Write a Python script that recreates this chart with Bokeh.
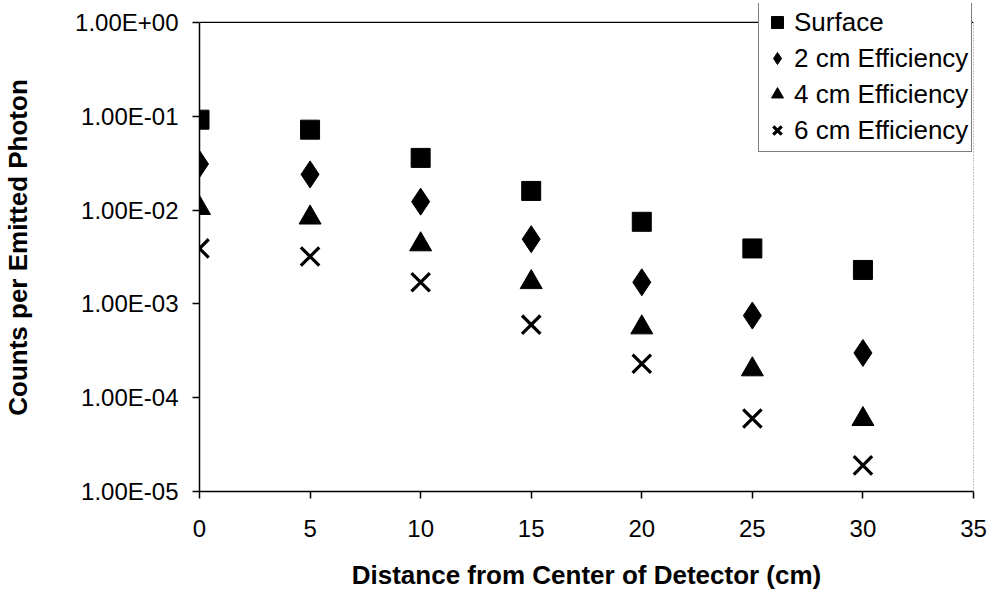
from bokeh.plotting import figure
from bokeh.embed import file_html
from bokeh.resources import INLINE
from bokeh.models import (FixedTicker, CustomJSTickFormatter, LinearAxis, Legend, LegendItem, Range1d, Span)

distance = [0, 5, 10, 15, 20, 25, 30]
surface = [0.092, 0.072, 0.036, 0.016, 0.0075, 0.0039, 0.0023]
eff_2cm = [0.031, 0.024, 0.0123, 0.0049, 0.0017, 0.00075, 0.0003]
eff_4cm = [0.0105, 0.0083, 0.0043, 0.0017, 0.00056, 0.0002, 0.000059]
eff_6cm = [0.0039, 0.0032, 0.0017, 0.0006, 0.00023, 0.00006, 0.000019]

x_ticks = [0, 5, 10, 15, 20, 25, 30, 35]
y_ticks = [1e-5, 1e-4, 1e-3, 1e-2, 1e-1, 1e0]
y_tick_labels = ["1.00E-05", "1.00E-04", "1.00E-03", "1.00E-02", "1.00E-01", "1.00E+00"]
series_names = ["Surface", "2 cm Efficiency", "4 cm Efficiency", "6 cm Efficiency"]

FONT = "Liberation Sans"
Y_MIN, Y_MAX = y_ticks[0], y_ticks[-1]

p = figure(width=992, height=592, output_backend="svg", toolbar_location=None,
           y_axis_type="log", x_range=Range1d(0, 35), y_range=Range1d(Y_MIN, 1.593),
           min_border_left=198, min_border_right=19, min_border_top=3, min_border_bottom=100)
p.outline_line_color = None
p.xgrid.grid_line_color = None
p.ygrid.grid_line_color = None
p.background_fill_color = "white"
p.border_fill_color = "white"

r1 = p.scatter(distance, surface, marker="square", size=19, color="black")
r2 = p.scatter(distance, eff_2cm, marker="diamond", size=27, color="black")
r3 = p.scatter(distance, eff_4cm, marker="triangle", size=22, color="black")
r4 = p.scatter(distance, eff_6cm, marker="x", size=26, line_color="black", line_width=3.2)

xa = p.xaxis[0]
xa.ticker = FixedTicker(ticks=x_ticks)
xa.axis_label = "Distance from Center of Detector (cm)"
ya = p.yaxis[0]
ya.ticker = FixedTicker(ticks=y_ticks)
ya.bounds = (Y_MIN, Y_MAX)
ya.formatter = CustomJSTickFormatter(args=dict(vals=y_ticks, labs=y_tick_labels), code="""
    let best = 0, bd = 1e9;
    for (let i = 0; i < vals.length; i++) {
        const d = Math.abs(Math.log10(vals[i]) - Math.log10(tick));
        if (d < bd) { bd = d; best = i; }
    }
    return labs[best];
""")
ya.axis_label = "Counts per Emitted Photon"

for ax in (xa, ya):
    ax.axis_line_color = "black"
    ax.axis_line_width = 1.5
    ax.major_tick_line_color = "black"
    ax.major_tick_line_width = 1.5
    ax.major_tick_out = 7
    ax.major_tick_in = 0
    ax.minor_tick_line_color = None
    ax.major_label_text_font = FONT
    ax.major_label_text_font_size = "24px"
    ax.major_label_text_color = "black"
    ax.axis_label_text_font = FONT
    ax.axis_label_text_font_style = "bold"
    ax.axis_label_text_font_size = "26px"
    ax.axis_label_text_color = "black"
xa.major_label_standoff = 21
ya.major_label_standoff = 14
xa.axis_label_standoff = 20
ya.axis_label_standoff = 39

right = LinearAxis(major_tick_line_color=None, minor_tick_line_color=None,
                   major_label_text_font_size="0px", axis_line_color="#888888", axis_line_width=1,
                   axis_line_dash="1 2")
right.ticker = FixedTicker(ticks=[])
right.bounds = (Y_MIN, Y_MAX)
p.add_layout(right, "right")

p.add_layout(Span(location=Y_MAX, dimension="width", line_color="black", line_width=1.2))

legend = Legend(items=[LegendItem(label=series_names[0], renderers=[r1]),
                       LegendItem(label=series_names[1], renderers=[r2]),
                       LegendItem(label=series_names[2], renderers=[r3]),
                       LegendItem(label=series_names[3], renderers=[r4])],
                location=(559, 339))
legend.border_line_color = "black"
legend.border_line_width = 1.2
legend.background_fill_color = "white"
legend.background_fill_alpha = 1
legend.label_text_font = FONT
legend.label_text_font_size = "26px"
legend.label_text_color = "black"
legend.glyph_width = 30
legend.glyph_height = 36
legend.label_standoff = 2
legend.padding = 3
legend.spacing = 0
legend.margin = 0
p.add_layout(legend, "center")

open("out.html", "w").write(file_html(p, INLINE))
